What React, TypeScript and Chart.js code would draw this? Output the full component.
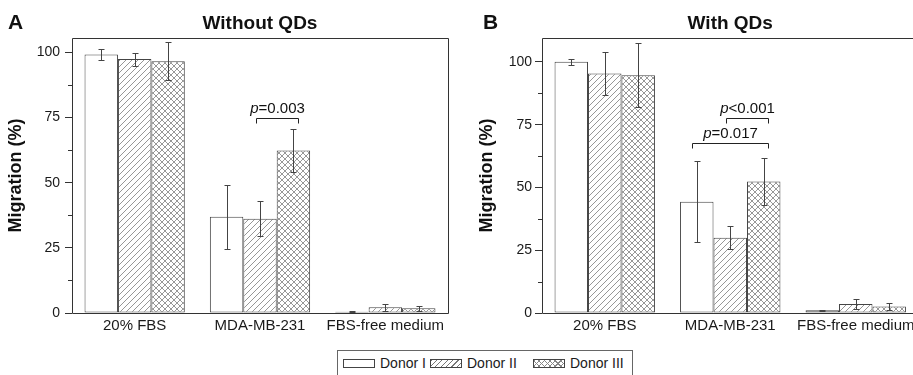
import React, { useEffect, useRef } from 'react';
import { Chart, registerables } from 'chart.js';
Chart.register(...registerables);

const categories = ['20% FBS', 'MDA-MB-231', 'FBS-free medium'];
const donors = ['Donor I', 'Donor II', 'Donor III'];
const yTickValues = [0, 25, 50, 75, 100];
const minorTickValues = [12.5, 37.5, 62.5, 87.5];

// Panel A: Without QDs
const withoutQD_donor1 = [99.2, 36.9, 0.5];
const withoutQD_donor2 = [97.4, 36.2, 2.2];
const withoutQD_donor3 = [96.6, 62.3, 1.8];
const withoutQD_err1 = [2.2, 12.3, 0.3];
const withoutQD_err2 = [2.5, 6.7, 1.3];
const withoutQD_err3 = [7.3, 8.2, 0.9];
const bracketsA = [{ category: 1, from: 1, to: 2, level: 75, label: '=0.003' }];

// Panel B: With QDs
const withQD_donor1 = [100.0, 44.3, 1.1];
const withQD_donor2 = [95.4, 30.0, 3.6];
const withQD_donor3 = [94.7, 52.4, 2.6];
const withQD_err1 = [1.1, 16.2, 0.25];
const withQD_err2 = [8.6, 4.5, 1.9];
const withQD_err3 = [12.8, 9.2, 1.3];
const bracketsB = [
  { category: 1, from: 1, to: 2, level: 77.5, label: '<0.001' },
  { category: 1, from: 0, to: 2, level: 67.8, label: '=0.017' },
];

const FONT = '"Liberation Sans", Arial, Helvetica, sans-serif';

function makePattern(kind: string) {
  const s = 6;
  const c = document.createElement('canvas');
  c.width = s;
  c.height = s;
  const g = c.getContext('2d')!;
  g.fillStyle = '#ffffff';
  g.fillRect(0, 0, s, s);
  g.strokeStyle = '#6a6a6a';
  g.lineWidth = 0.7;
  g.beginPath();
  g.moveTo(-1, s + 1); g.lineTo(s + 1, -1);
  g.moveTo(-1, 1); g.lineTo(1, -1);
  g.moveTo(s - 1, s + 1); g.lineTo(s + 1, s - 1);
  if (kind === 'cross') {
    g.moveTo(-1, -1); g.lineTo(s + 1, s + 1);
    g.moveTo(s - 1, -1); g.lineTo(s + 1, 1);
    g.moveTo(-1, s - 1); g.lineTo(1, s + 1);
  }
  g.stroke();
  return g.createPattern(c, 'repeat');
}

const panelPlugin = {
  id: 'panelDeco',
  afterDatasetsDraw(chart: any, _args: any, opts: any) {
    const ctx = chart.ctx;
    const { left, right, top, bottom } = chart.chartArea;
    const ys = chart.scales.y;
    ctx.save();
    // error bars
    ctx.strokeStyle = '#444444';
    ctx.lineWidth = 1;
    (opts.errors || []).forEach((errs: number[], i: number) => {
      const meta = chart.getDatasetMeta(i);
      meta.data.forEach((bar: any, j: number) => {
        const v = chart.data.datasets[i].data[j];
        const e = errs[j];
        const x = Math.round(bar.x) + 0.5;
        const yt = Math.round(ys.getPixelForValue(v + e)) + 0.5;
        const yb = Math.round(ys.getPixelForValue(Math.max(0, v - e))) + 0.5;
        ctx.beginPath();
        ctx.moveTo(x, yt); ctx.lineTo(x, yb);
        ctx.moveTo(x - 3, yt); ctx.lineTo(x + 3, yt);
        if (v - e > 0) { ctx.moveTo(x - 3, yb); ctx.lineTo(x + 3, yb); }
        ctx.stroke();
      });
    });
    // frame
    ctx.strokeStyle = '#333333';
    ctx.beginPath();
    ctx.rect(Math.round(left) + 0.5, Math.round(top) + 0.5, Math.round(right - left), Math.round(bottom - top));
    ctx.stroke();
    // minor ticks
    minorTickValues.forEach((v) => {
      const y = Math.round(ys.getPixelForValue(v)) + 0.5;
      ctx.beginPath();
      ctx.moveTo(left - 4, y); ctx.lineTo(left, y);
      ctx.stroke();
    });
    // significance brackets
    ctx.strokeStyle = '#222222';
    (opts.brackets || []).forEach((b: any) => {
      const b1 = chart.getDatasetMeta(b.from).data[b.category];
      const b2 = chart.getDatasetMeta(b.to).data[b.category];
      const x1 = Math.round(b1.x - 4.5) + 0.5;
      const x2 = Math.round(b2.x + 4.5) + 0.5;
      const y = Math.round(ys.getPixelForValue(b.level)) + 0.5;
      ctx.beginPath();
      ctx.moveTo(x1, y + 5); ctx.lineTo(x1, y); ctx.lineTo(x2, y); ctx.lineTo(x2, y + 5);
      ctx.stroke();
      ctx.fillStyle = '#111111';
      ctx.textBaseline = 'alphabetic';
      ctx.textAlign = 'left';
      ctx.font = `italic 15px ${FONT}`;
      const wp = ctx.measureText('p').width;
      ctx.font = `15px ${FONT}`;
      const wl = ctx.measureText(b.label).width;
      const sx = (x1 + x2) / 2 - (wp + wl) / 2;
      ctx.font = `italic 15px ${FONT}`;
      ctx.fillText('p', sx, y - 6);
      ctx.font = `15px ${FONT}`;
      ctx.fillText(b.label, sx + wp, y - 6);
    });
    // title and panel letter
    ctx.fillStyle = '#111111';
    ctx.textBaseline = 'alphabetic';
    ctx.textAlign = 'center';
    ctx.font = `bold 19px ${FONT}`;
    ctx.fillText(opts.title, (left + right) / 2, 29);
    ctx.textAlign = 'left';
    ctx.font = `bold 21px ${FONT}`;
    ctx.fillText(opts.letter, opts.letterX, 29);
    ctx.restore();
  },
};

function buildConfig(p: any) {
  return {
    type: 'bar',
    data: {
      labels: categories,
      datasets: [
        { label: donors[0], data: p.d1, backgroundColor: '#ffffff' },
        { label: donors[1], data: p.d2, backgroundColor: p.diag },
        { label: donors[2], data: p.d3, backgroundColor: p.cross },
      ].map((d) => ({ ...d, borderColor: '#444444', borderWidth: 1, borderSkipped: false, categoryPercentage: 0.8, barPercentage: 1.0 })),
    },
    options: {
      responsive: false,
      animation: false,
      events: [],
      layout: { padding: { left: p.padLeft, right: p.padRight, top: 38, bottom: 0 } },
      plugins: {
        legend: { display: false },
        title: { display: false },
        tooltip: { enabled: false },
        panelDeco: { errors: p.errs, brackets: p.brackets, title: p.title, letter: p.letter, letterX: p.letterX },
      },
      scales: {
        x: {
          grid: { display: false, drawTicks: false },
          border: { display: false },
          ticks: { color: '#1a1a1a', font: { family: FONT, size: 15 }, padding: 4, maxRotation: 0, autoSkip: false },
          afterFit: (s: any) => { s.height = 32; },
        },
        y: {
          min: 0,
          max: p.yMax,
          afterBuildTicks: (s: any) => { s.ticks = yTickValues.map((v) => ({ value: v })); },
          grid: { display: true, drawOnChartArea: false, drawTicks: true, tickLength: 7, color: '#333333' },
          border: { display: false },
          ticks: { color: '#1a1a1a', font: { family: FONT, size: 14 }, padding: p.tickPad },
          title: { display: true, text: 'Migration (%)', color: '#111111', font: { family: FONT, size: 18, weight: 'bold' }, padding: { top: 0, bottom: 0 } },
          afterFit: (s: any) => { s.width = p.yWidth; },
        },
      },
    },
    plugins: [panelPlugin],
  };
}

function Swatch({ x, kind }: { x: number; kind: string }) {
  let bg = '#ffffff';
  if (kind === 'diag') bg = 'repeating-linear-gradient(135deg, #777 0px, #777 0.8px, #fff 0.8px, #fff 3.8px)';
  if (kind === 'cross') bg = 'repeating-linear-gradient(135deg, #888 0px, #888 0.8px, transparent 0.8px, transparent 3.8px), repeating-linear-gradient(45deg, #888 0px, #888 0.8px, #fff 0.8px, #fff 3.8px)';
  return <div style={{ position: 'absolute', left: x, top: 359, width: 32, height: 9, boxSizing: 'border-box', border: '1px solid #444', background: bg }} />;
}

function Label({ x, text }: { x: number; text: string }) {
  return <div style={{ position: 'absolute', left: x, top: 356, fontFamily: FONT, fontSize: 14, lineHeight: '14px', color: '#1a1a1a', whiteSpace: 'nowrap' }}>{text}</div>;
}

export default function App() {
  const refA = useRef<HTMLCanvasElement>(null);
  const refB = useRef<HTMLCanvasElement>(null);
  useEffect(() => {
    const ctxA = refA.current!.getContext('2d')!;
    const ctxB = refB.current!.getContext('2d')!;
    const diag = makePattern('diag');
    const cross = makePattern('cross');
    const chartA = new Chart(ctxA, buildConfig({
      d1: withoutQD_donor1, d2: withoutQD_donor2, d3: withoutQD_donor3,
      errs: [withoutQD_err1, withoutQD_err2, withoutQD_err3],
      brackets: bracketsA, title: 'Without QDs', letter: 'A', letterX: 8,
      padLeft: 5, padRight: 12, yWidth: 67, yMax: 105.5, tickPad: 5, diag, cross,
    }) as any);
    const chartB = new Chart(ctxB, buildConfig({
      d1: withQD_donor1, d2: withQD_donor2, d3: withQD_donor3,
      errs: [withQD_err1, withQD_err2, withQD_err3],
      brackets: bracketsB, title: 'With QDs', letter: 'B', letterX: 28,
      padLeft: 21, padRight: 11.5, yWidth: 66, yMax: 109.5, tickPad: 3, diag, cross,
    }) as any);
    return () => { chartA.destroy(); chartB.destroy(); };
  }, []);
  return (
    <div style={{ position: 'absolute', left: 0, top: 0, width: 913, height: 375, overflow: 'hidden', background: '#ffffff' }}>
      <canvas ref={refA} width={460} height={345} style={{ position: 'absolute', left: 0, top: 0 }} />
      <canvas ref={refB} width={475} height={345} style={{ position: 'absolute', left: 455, top: 0 }} />
      <div style={{ position: 'absolute', left: 337, top: 350, width: 296, height: 40, boxSizing: 'border-box', border: '1px solid #666' }} />
      <Swatch x={343} kind="plain" />
      <Label x={380} text={donors[0]} />
      <Swatch x={430} kind="diag" />
      <Label x={467} text={donors[1]} />
      <Swatch x={533} kind="cross" />
      <Label x={570} text={donors[2]} />
    </div>
  );
}
